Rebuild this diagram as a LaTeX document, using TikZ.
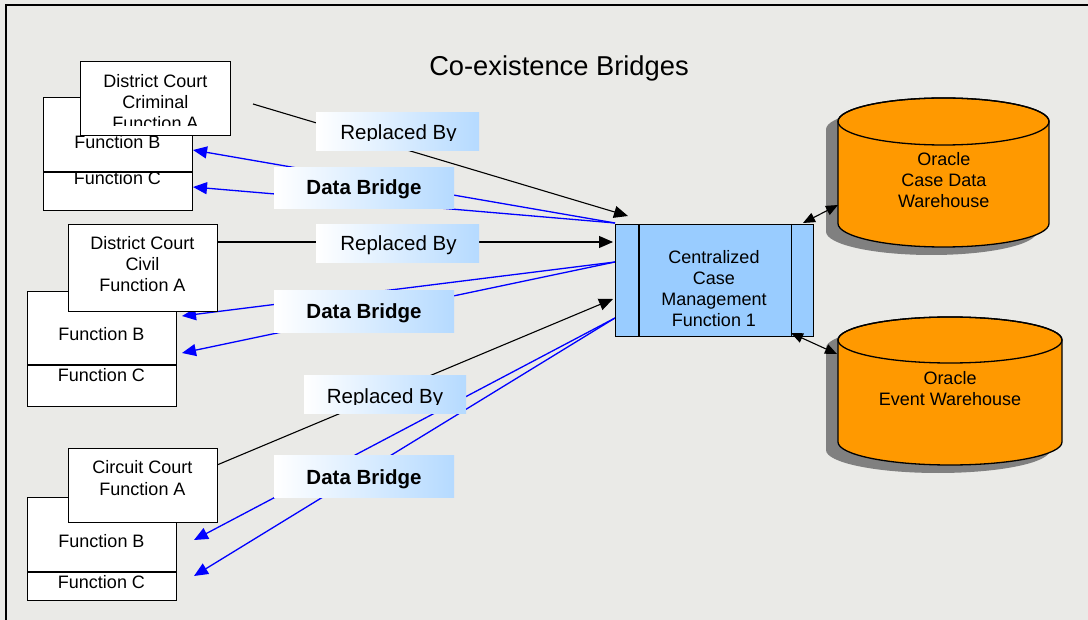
\documentclass[tikz,border=0pt]{standalone}
\usepackage{fontspec}
\setmainfont{Liberation Sans}
\usetikzlibrary{arrows.meta,calc}
\definecolor{paper}{RGB}{234,234,231}
\definecolor{cmblue}{RGB}{153,204,255}
\definecolor{dborange}{RGB}{255,153,0}
\definecolor{shadowgray}{RGB}{128,128,128}
\definecolor{bridgeblue}{RGB}{0,0,255}
\pgfdeclarehorizontalshading{labelshade}{100bp}{color(0bp)=(white); color(25bp)=(white); color(94bp)=(cmblue); color(100bp)=(cmblue)}
\tikzset{
  boxline/.style={draw=black, line width=1.3pt},
  funcbox/.style={boxline, fill=white, inner sep=0pt, anchor=north west},
  cmbox/.style={boxline, fill=cmblue, inner sep=0pt, anchor=north west},
  labelbox/.style={shading=labelshade, draw=none, inner sep=0pt, anchor=north west},
  txt/.style={font=\fontsize{18}{21}\selectfont, inner sep=0pt, anchor=base},
  lbltxt/.style={font=\fontsize{20.5}{24}\selectfont, inner sep=0pt, anchor=base},
  ttltxt/.style={font=\fontsize{27.3}{32}\selectfont, inner sep=0pt, anchor=base},
  replarrow/.style={draw=black, line width=1.1pt, -{Triangle[length=14pt,width=12pt]}},
  bridgearrow/.style={draw=bridgeblue, line width=1.3pt, -{Triangle[length=14pt,width=12pt]}},
  dblarrow/.style={draw=black, line width=1.1pt, {Triangle[length=12pt,width=10pt]}-{Triangle[length=12pt,width=10pt]}},
  cylbody/.style={fill=dborange, draw=black, line width=1.3pt},
}
\begin{document}
\begin{tikzpicture}[x=1pt,y=-1pt]
\useasboundingbox (0,0) rectangle (1088,620);
\clip (0,0) rectangle (1088,620);
\fill[paper] (0,0) rectangle (1088,620);
\draw[line width=1.8pt] (6,640) -- (6,5) -- (1100,5);

% title
\node (title) [ttltxt] at (559,76) {Co-existence Bridges};

% ---------- connector end points ----------
\coordinate (r1s) at (253,104);  \coordinate (r1e) at (628,216);
\coordinate (r2s) at (217,242);  \coordinate (r2e) at (613,242);
\coordinate (r3s) at (217,465);  \coordinate (r3e) at (613,299);
\coordinate (b1s) at (615,223);
\coordinate (b1a) at (193,150);  \coordinate (b1b) at (193,187);
\coordinate (b2s) at (615,262);
\coordinate (b2a) at (182,316);  \coordinate (b2b) at (182,353);
\coordinate (b3s) at (615,318);
\coordinate (b3a) at (194,540);  \coordinate (b3b) at (194,576);
\coordinate (d1s) at (803,223);  \coordinate (d1e) at (838,205);
\coordinate (d2s) at (791,333);  \coordinate (d2e) at (837,354);

% ---------- connectors ----------
\draw[replarrow] (r1s) -- (r1e);
\draw[replarrow] (r2s) -- (r2e);
\draw[replarrow] (r3s) -- (r3e);
\draw[bridgearrow] (b1s) -- (b1a);
\draw[bridgearrow] (b1s) -- (b1b);
\draw[bridgearrow] (b2s) -- (b2a);
\draw[bridgearrow] (b2s) -- (b2b);
\draw[bridgearrow] (b3s) -- (b3a);
\draw[bridgearrow] (b3s) -- (b3b);

% ---------- label boxes ----------
\node (rb1) [labelbox, minimum width=163pt, minimum height=38pt] at (316,112) {};
\begin{scope}
  \clip (316,112) rectangle (479,141);
  \node (rb1t) [lbltxt] at (398.5,139.3) {Replaced By};
\end{scope}
\node (db1) [labelbox, minimum width=180pt, minimum height=41pt] at (274,167) {};
\node (db1t) [lbltxt, font=\fontsize{20.5}{24}\selectfont\bfseries] at (364,195) {Data Bridge};

\node (rb2) [labelbox, minimum width=163pt, minimum height=38pt] at (316,224) {};
\node (rb2t) [lbltxt] at (398.5,251) {Replaced By};
\node (db2) [labelbox, minimum width=180pt, minimum height=42pt] at (274,290) {};
\node (db2t) [lbltxt, font=\fontsize{20.5}{24}\selectfont\bfseries] at (364,319) {Data Bridge};

\node (rb3) [labelbox, minimum width=162pt, minimum height=38pt] at (304,375) {};
\begin{scope}
  \clip (304,375) rectangle (466,404.5);
  \node (rb3t) [lbltxt] at (385,403.3) {Replaced By};
\end{scope}
\node (db3) [labelbox, minimum width=180pt, minimum height=42pt] at (274,455) {};
\node (db3t) [lbltxt, font=\fontsize{20.5}{24}\selectfont\bfseries] at (364,484) {Data Bridge};

% ---------- district court criminal ----------
\node (g1back) [funcbox, minimum width=149pt, minimum height=113pt] at (43,97) {};
\draw[boxline] ($(g1back.north west)+(0,75)$) -- ($(g1back.north east)+(0,75)$);
\node (g1b) [txt] at (117.5,148.3) {Function B};
\node (g1c) [txt] at (117.5,185) {Function C};
\node (g1front) [funcbox, minimum width=150pt, minimum height=74pt] at (80,61) {};
\begin{scope}
  \clip (80,61) rectangle (230,126);
  \node (g1a1) [txt] at (155.5,87.3) {District Court};
  \node (g1a2) [txt] at (155.5,108.3) {Criminal};
  \node (g1a3) [txt] at (155.5,129.3) {Function A};
\end{scope}

% ---------- district court civil ----------
\node (g2back) [funcbox, minimum width=149pt, minimum height=115pt] at (27,291) {};
\draw[boxline] ($(g2back.north west)+(0,74)$) -- ($(g2back.north east)+(0,74)$);
\node (g2b) [txt] at (101.5,341) {Function B};
\node (g2c) [txt] at (101.5,381.7) {Function C};
\node (g2front) [funcbox, minimum width=149pt, minimum height=87pt] at (68,224) {};
\node (g2a1) [txt] at (142.5,250) {District Court};
\node (g2a2) [txt] at (142.5,271) {Civil};
\node (g2a3) [txt] at (142.5,291.7) {Function A};

% ---------- circuit court ----------
\node (g3back) [funcbox, minimum width=149pt, minimum height=103pt] at (27,497) {};
\draw[boxline] ($(g3back.north west)+(0,75)$) -- ($(g3back.north east)+(0,75)$);
\node (g3b) [txt] at (101.5,547.3) {Function B};
\node (g3c) [txt] at (101.5,588.3) {Function C};
\node (g3front) [funcbox, minimum width=149pt, minimum height=74pt] at (68,448) {};
\node (g3a1) [txt] at (142.5,474) {Circuit Court};
\node (g3a2) [txt] at (142.5,495) {Function A};

% ---------- centralized case management ----------
\node (cm) [cmbox, minimum width=198pt, minimum height=112pt] at (615,224) {};
\draw[boxline] ($(cm.north west)+(24,0)$) -- ($(cm.south west)+(24,0)$);
\draw[boxline] ($(cm.north east)+(-23,0)$) -- ($(cm.south east)+(-23,0)$);
\node (cm1) [txt] at (714,264) {Centralized};
\node (cm2) [txt] at (714,285) {Case};
\node (cm3) [txt] at (714,305.3) {Management};
\node (cm4) [txt] at (714,326.7) {Function 1};

% ---------- oracle case data warehouse ----------
\fill[shadowgray, shift={(-12,8)}] (838,121.5) -- (838,223.5)
  arc[start angle=180, end angle=360, x radius=105.5pt, y radius=23.5pt] -- (1049,121.5)
  arc[start angle=0, end angle=180, x radius=105.5pt, y radius=23.5pt] -- cycle;
\filldraw[cylbody] (838,121.5) -- (838,223.5)
  arc[start angle=180, end angle=360, x radius=105.5pt, y radius=23.5pt] -- (1049,121.5)
  arc[start angle=0, end angle=180, x radius=105.5pt, y radius=23.5pt] -- cycle;
\draw[boxline] (943.5,121.5) ellipse[x radius=105.5pt, y radius=23.5pt];
\node (w1a) [txt] at (943.8,166) {Oracle};
\node (w1b) [txt] at (943.8,186.7) {Case Data};
\node (w1c) [txt] at (943.8,207.7) {Warehouse};

% ---------- oracle event warehouse ----------
\fill[shadowgray, shift={(-12,8)}] (838,340) -- (838,442)
  arc[start angle=180, end angle=360, x radius=112pt, y radius=23pt] -- (1062,340)
  arc[start angle=0, end angle=180, x radius=112pt, y radius=23pt] -- cycle;
\filldraw[cylbody] (838,340) -- (838,442)
  arc[start angle=180, end angle=360, x radius=112pt, y radius=23pt] -- (1062,340)
  arc[start angle=0, end angle=180, x radius=112pt, y radius=23pt] -- cycle;
\draw[boxline] (950,340) ellipse[x radius=112pt, y radius=23pt];
\node (w2a) [txt] at (950,385) {Oracle};
\node (w2b) [txt] at (950,406) {Event Warehouse};

% ---------- warehouse links ----------
\draw[dblarrow] (d1s) -- (d1e);
\draw[dblarrow] (d2s) -- (d2e);
\end{tikzpicture}
\end{document}
